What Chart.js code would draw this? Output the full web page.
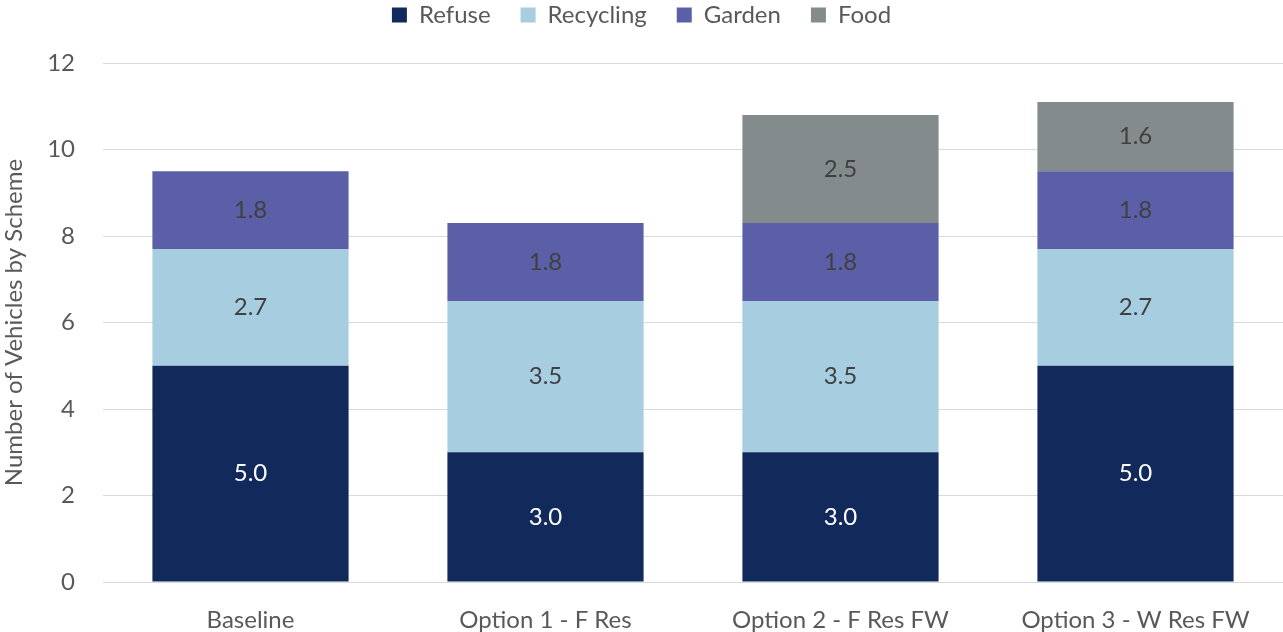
<!DOCTYPE html>
<html>
<head>
<meta charset="utf-8">
<script src="https://cdn.jsdelivr.net/npm/chart.js@4"></script>
<style>
  html, body { margin: 0; padding: 0; background: #fff; }
  #wrap { width: 1283px; height: 632px; }
</style>
</head>
<body>
<div id="wrap"><canvas id="vehicleChart"></canvas></div>
<script>
// Vehicles needed per collection scheme
const schemes = ['Baseline', 'Option 1 - F Res', 'Option 2 - F Res FW', 'Option 3 - W Res FW'];
const refuse = [5.0, 3.0, 3.0, 5.0];
const recycling = [2.7, 3.5, 3.5, 2.7];
const garden = [1.8, 1.8, 1.8, 1.8];
const food = [null, null, 2.5, 1.6];
const yTicks = [0, 2, 4, 6, 8, 10, 12];

const textGrey = '#595959';
const fontStack = 'Lato, "Open Sans", sans-serif';
Chart.defaults.font.family = fontStack;
Chart.defaults.font.size = 24;
Chart.defaults.color = textGrey;

// Writes each segment's value in the middle of its bar piece
const segmentLabels = {
    id: 'segmentLabels',
    afterDatasetsDraw(chart) {
        const ctx = chart.ctx;
        ctx.save();
        ctx.font = '24px ' + fontStack;
        ctx.textAlign = 'center';
        ctx.textBaseline = 'middle';
        chart.data.datasets.forEach((ds, i) => {
            const meta = chart.getDatasetMeta(i);
            meta.data.forEach((bar, j) => {
                const v = ds.data[j];
                if (v == null) return;
                ctx.fillStyle = ds.labelColor;
                ctx.fillText(v.toFixed(1), bar.x, (bar.y + bar.base) / 2);
            });
        });
        ctx.restore();
    }
};

// Fixed legend band above the plot, legend row pulled up to the top edge
const legendBand = {
    id: 'legendBand',
    beforeInit(chart) {
        const legend = chart.legend;
        const fit = legend.fit;
        legend.fit = function () {
            fit.bind(legend)();
            this.height = 63;
        };
        const draw = legend.draw;
        legend.draw = function () {
            const c = chart.ctx;
            c.save();
            c.translate(0, -27);
            draw.bind(legend)();
            c.restore();
        };
    }
};

const ctx = document.getElementById('vehicleChart').getContext('2d');
new Chart(ctx, {
    type: 'bar',
    data: {
        labels: schemes,
        datasets: [
            { label: 'Refuse', data: refuse, backgroundColor: '#112a5b', labelColor: '#ffffff' },
            { label: 'Recycling', data: recycling, backgroundColor: '#a7cde0', labelColor: '#404040' },
            { label: 'Garden', data: garden, backgroundColor: '#5a5fa8', labelColor: '#404040' },
            { label: 'Food', data: food, backgroundColor: '#848b8c', labelColor: '#404040' },
        ],
    },
    options: {
        responsive: true,
        maintainAspectRatio: false,
        animation: false,
        layout: { padding: 0 },
        datasets: {
            bar: { categoryPercentage: 1, barPercentage: 0.665 },
        },
        scales: {
            x: {
                stacked: true,
                grid: { display: false },
                border: { display: false },
                ticks: { color: textGrey, padding: 16, maxRotation: 0, autoSkip: false },
                afterFit: scale => { scale.height = 50; },
            },
            y: {
                stacked: true,
                min: 0,
                max: 12,
                afterBuildTicks: scale => { scale.ticks = yTicks.map(v => ({ value: v })); },
                grid: { color: '#d9d9d9', lineWidth: 1, drawTicks: false },
                border: { display: false },
                ticks: { color: textGrey, padding: 28 },
                title: {
                    display: true,
                    text: 'Number of Vehicles by Scheme',
                    color: textGrey,
                    font: { size: 24 },
                    padding: 0,
                },
                afterFit: scale => { scale.width = 103; },
            },
        },
        plugins: {
            legend: {
                position: 'top',
                labels: {
                    boxWidth: 15,
                    boxHeight: 15,
                    padding: 30,
                    color: textGrey,
                    font: { size: 24 },
                },
            },
            tooltip: { enabled: false },
        },
    },
    plugins: [segmentLabels, legendBand],
});
</script>
</body>
</html>
